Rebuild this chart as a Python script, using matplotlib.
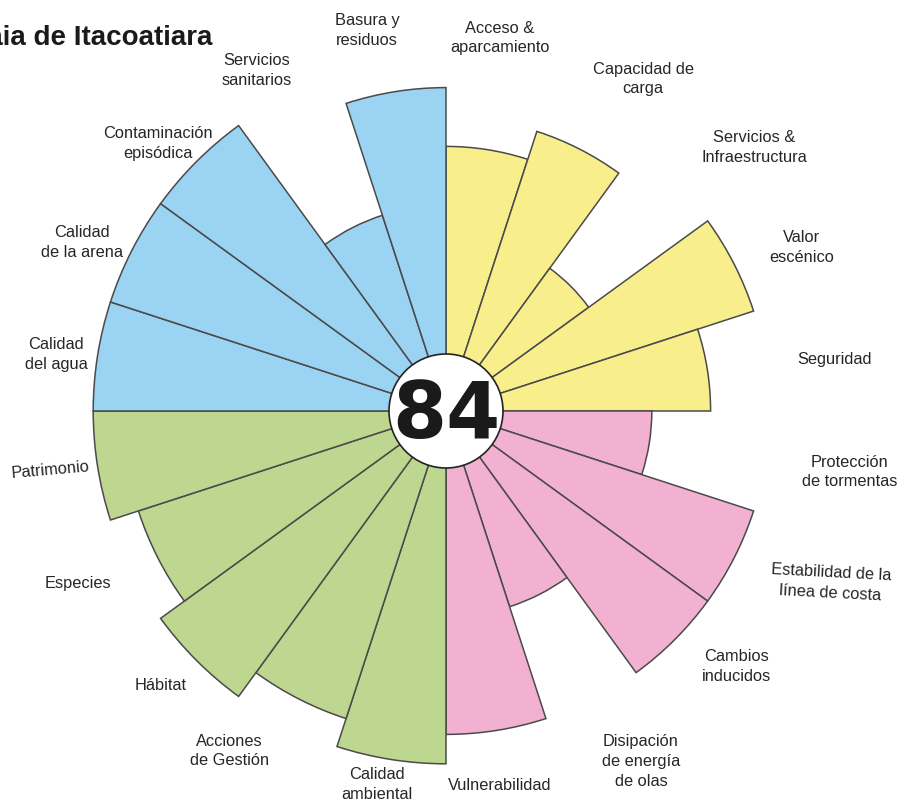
import matplotlib
matplotlib.use("Agg")
import matplotlib.pyplot as plt
import numpy as np
from matplotlib.patches import Circle

plt.rcParams['font.family'] = ['Liberation Sans', 'DejaVu Sans']

# indicadores, en sentido horario desde arriba
labels = [
    "Acceso &\naparcamiento", "Capacidad de\ncarga", "Servicios &\nInfraestructura",
    "Valor\nescénico", "Seguridad",
    "Protección\nde tormentas", "Estabilidad de la\nlínea de costa", "Cambios\ninducidos",
    "Disipación\nde energía\nde olas", "Vulnerabilidad",
    "Calidad\nambiental", "Acciones\nde Gestión", "Hábitat", "Especies", "Patrimonio",
    "Calidad\ndel agua", "Calidad\nde la arena", "Contaminación\nepisódica",
    "Servicios\nsanitarios", "Basura y\nresiduos",
]
values = [9, 10, 6, 11, 9,
          7, 11, 11, 7, 11,
          12, 11, 12, 11, 12,
          12, 12, 12, 7, 11]
groups = [0] * 5 + [1] * 5 + [2] * 5 + [3] * 5
group_colors = ['#f9ee8c', '#f3b1d1', '#bdd690', '#9bd3f3']
score = "84"
title = "Praia de Itacoatiara"

# posicion de las etiquetas (desplazamiento en grados y radio)
label_shift = [-0.8, 3.7, 4.5, 2.3, 1.4, -0.4, -2.9, -3.6, -2.1, 0.8,
               1.5, 5.5, 1.2, 1.9, 0.5, -0.8, -2.2, -2.1, -2.1, -2.7]
label_r = [12.82, 13.13, 13.78, 13.30, 13.33, 13.88, 14.32, 13.16, 13.64, 12.86,
           12.92, 13.71, 13.47, 13.81, 13.61, 13.40, 13.64, 13.37, 13.27, 13.23]
label_rot = [0] * 20
label_rot[6] = -3
label_rot[14] = 5

fig = plt.figure(figsize=(9.14, 8), dpi=100)
ax = fig.add_axes([78.5 / 914, 21.5 / 800, 735 / 914, 735 / 800], projection='polar')
ax.set_theta_zero_location('N')
ax.set_theta_direction(-1)
ax.set_ylim(0, 12.5)

n = len(values)
width = 2 * np.pi / n
theta = (np.arange(n) + 0.5) * width
bar_colors = [group_colors[g] for g in groups]
ax.bar(theta, values, width=width, bottom=0, color=bar_colors,
       edgecolor='#4a4a4a', linewidth=1.1)
ax.set_axis_off()

# circulo central con la puntuacion
ax.add_patch(Circle((0.5, 0.5), 57 / 735, transform=ax.transAxes,
                    facecolor='white', edgecolor='#222222', linewidth=1.2, zorder=5))
ax.text(0.5, 0.5 - 27 / 735, score, transform=ax.transAxes, ha='center', va='baseline',
        fontsize=56, fontweight='bold', family='DejaVu Sans', color='#1a1a1a', zorder=6)

for i, lab in enumerate(labels):
    ang = theta[i] + np.deg2rad(label_shift[i])
    ax.text(ang, label_r[i], lab, ha='center', va='center', fontsize=11.8,
            color='#262626', linespacing=1.4, rotation=label_rot[i])

fig.text(212 / 914, 1 - 38 / 800, title, ha='right', va='center',
         fontsize=20, fontweight='bold', color='#1a1a1a')

fig.savefig('out.png', dpi=100)
